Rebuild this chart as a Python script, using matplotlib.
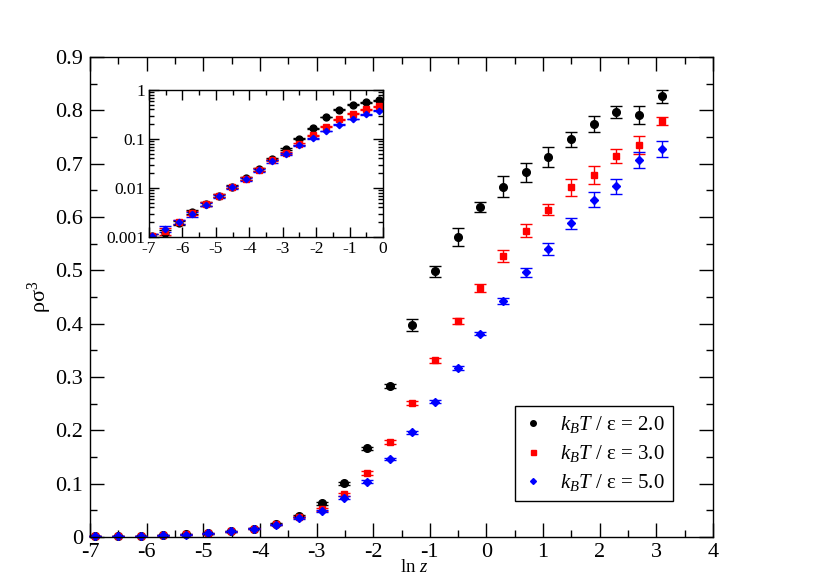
import matplotlib
matplotlib.use("Agg")
import matplotlib.pyplot as plt
from matplotlib.lines import Line2D
from matplotlib.ticker import MultipleLocator, FixedLocator, FixedFormatter, LogLocator, NullFormatter

plt.rcParams['font.family'] = ['Liberation Serif', 'DejaVu Serif']
plt.rcParams['mathtext.fontset'] = 'custom'
plt.rcParams['mathtext.rm'] = 'Liberation Serif'
plt.rcParams['mathtext.it'] = 'Liberation Serif:italic'
plt.rcParams['axes.unicode_minus'] = False

lnz = [-6.908, -6.508, -6.108, -5.708, -5.308, -4.908, -4.508, -4.108, -3.708, -3.308,
       -2.908, -2.508, -2.108, -1.708, -1.308, -0.908, -0.508, -0.108, 0.292, 0.692,
       1.092, 1.492, 1.892, 2.292, 2.692, 3.092]

rho_T2 = [0.00105, 0.00122, 0.00196, 0.0033, 0.0047, 0.0069, 0.0106, 0.0158, 0.024, 0.039,
          0.063, 0.101, 0.166, 0.283, 0.397, 0.498, 0.563, 0.619, 0.657, 0.684,
          0.713, 0.746, 0.775, 0.797, 0.792, 0.826]
err_T2 = [0.0001, 0.0002, 0.0002, 0.0003, 0.0004, 0.0005, 0.0007, 0.001, 0.0015, 0.002,
          0.003, 0.003, 0.003, 0.004, 0.011, 0.011, 0.017, 0.010, 0.019, 0.018,
          0.019, 0.014, 0.015, 0.012, 0.017, 0.0125]

rho_T3 = [0.00105, 0.0013, 0.0020, 0.0031, 0.0047, 0.0069, 0.0105, 0.0155, 0.0237, 0.037,
          0.052, 0.080, 0.120, 0.178, 0.251, 0.331, 0.405, 0.467, 0.527, 0.574,
          0.614, 0.656, 0.678, 0.715, 0.735, 0.780]
err_T3 = [0.0001, 0.0002, 0.0002, 0.0003, 0.0004, 0.0005, 0.0007, 0.001, 0.0015, 0.002,
          0.003, 0.003, 0.003, 0.003, 0.004, 0.005, 0.006, 0.008, 0.012, 0.012,
          0.011, 0.016, 0.017, 0.013, 0.017, 0.0075]

rho_T5 = [0.00105, 0.00145, 0.0020, 0.0029, 0.0046, 0.0068, 0.0104, 0.0152, 0.0232, 0.035,
          0.049, 0.074, 0.104, 0.146, 0.196, 0.254, 0.317, 0.381, 0.442, 0.496,
          0.540, 0.588, 0.632, 0.658, 0.706, 0.728]
err_T5 = [0.0001, 0.0002, 0.0002, 0.0003, 0.0004, 0.0005, 0.0007, 0.001, 0.0015, 0.002,
          0.002, 0.002, 0.002, 0.002, 0.003, 0.003, 0.004, 0.003, 0.006, 0.008,
          0.012, 0.011, 0.014, 0.014, 0.015, 0.015]

labels = [r"$k_BT$ / ε = 2.0", r"$k_BT$ / ε = 3.0", r"$k_BT$ / ε = 5.0"]
colors = ["black", "#ff0000", "#0000ff"]
markers = ["o", "s", "D"]
msizes = [5.5, 4.5, 3.6]
leg_msizes = [4.0, 3.6, 3.0]

series = [(rho_T2, err_T2), (rho_T3, err_T3), (rho_T5, err_T5)]

fig = plt.figure(figsize=(8.22, 5.81), dpi=100)
ax = fig.add_axes([90/822, 1-537/581, 623/822, 480/581])

for (y, e), c, m, ms in zip(series, colors, markers, msizes):
    ax.errorbar(lnz, y, yerr=e, fmt=m, color=c, ms=ms, mec=c, mfc=c,
                elinewidth=1, capsize=4, capthick=1, clip_on=False)

ax.set_xlim(-7, 4)
ax.set_ylim(0, 0.9)
ax.xaxis.set_major_locator(MultipleLocator(1))
ax.xaxis.set_minor_locator(MultipleLocator(0.5))
ax.yaxis.set_minor_locator(MultipleLocator(0.05))
yt = [0, 0.1, 0.2, 0.3, 0.4, 0.5, 0.6, 0.7, 0.8, 0.9]
ax.yaxis.set_major_locator(FixedLocator(yt))
ax.yaxis.set_major_formatter(FixedFormatter(["0", "0.1", "0.2", "0.3", "0.4", "0.5", "0.6", "0.7", "0.8", "0.9"]))
ax.tick_params(which='both', direction='in', top=True, right=True, labelsize=16, width=1)
ax.tick_params(which='major', length=10)
ax.tick_params(axis='x', which='major', pad=4)
ax.tick_params(axis='y', which='major', pad=5)
ax.tick_params(which='minor', length=5)
for s in ax.spines.values():
    s.set_linewidth(1)
ax.set_xlabel(r"ln $z$", fontsize=13.5)
ax.xaxis.set_label_coords(0.52, -0.046)
ax.set_ylabel("ρσ$^3$", fontsize=16, labelpad=1)

handles = [Line2D([], [], linestyle='none', marker=m, color=c, mec=c, mfc=c, ms=ms)
           for m, c, ms in zip(markers, colors, leg_msizes)]
leg = ax.legend(handles, labels, loc='lower right', bbox_to_anchor=(0.936, 0.075), fontsize=15,
                frameon=True, fancybox=False, edgecolor='black', framealpha=1,
                borderaxespad=0, handletextpad=0.8, labelspacing=0.38,
                handlelength=1.0, borderpad=0.38)
leg.get_frame().set_linewidth(1)

# inset
ins = fig.add_axes([149/822, 1-237/581, 234/822, 147/581])
for (y, e), c, m, ms in zip(series, colors, markers, msizes):
    ins.errorbar(lnz, y, yerr=e, fmt=m, color=c, ms=ms*0.9, mec=c, mfc=c,
                 elinewidth=1, capsize=4, capthick=1)
ins.set_yscale('log')
ins.set_xlim(-7, 0)
ins.set_ylim(0.001, 1)
ins.xaxis.set_major_locator(MultipleLocator(1))
ins.xaxis.set_minor_locator(MultipleLocator(0.5))
ins.yaxis.set_major_locator(FixedLocator([0.001, 0.01, 0.1, 1]))
ins.yaxis.set_major_formatter(FixedFormatter(["0.001", "0.01", "0.1", "1"]))
ins.yaxis.set_minor_locator(LogLocator(base=10, subs=range(2, 10)))
ins.yaxis.set_minor_formatter(NullFormatter())
ins.tick_params(which='both', direction='in', top=True, right=True, labelsize=12.5, width=1)
ins.tick_params(which='major', length=7, pad=3)
ins.tick_params(which='minor', length=3.5)
for s in ins.spines.values():
    s.set_linewidth(1)

fig.savefig("out.png", dpi=100)
